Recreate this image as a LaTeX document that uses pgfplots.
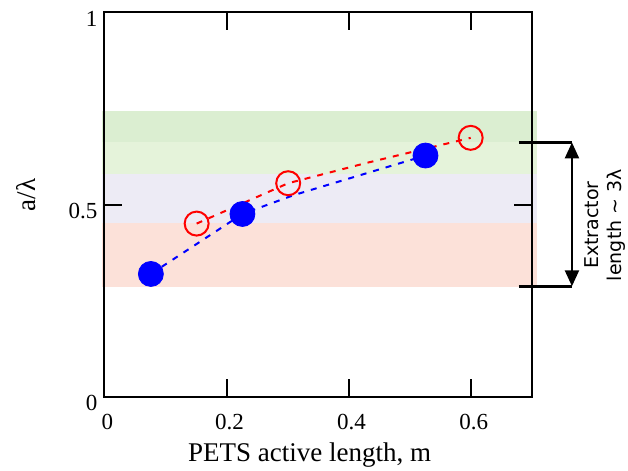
\documentclass[border=0pt]{standalone}
\usepackage{pgfplots}
\pgfplotsset{compat=1.18}
\usepackage{fontspec}
\setmainfont{Liberation Serif}
\newfontfamily\annfont{DejaVu Sans}
\usetikzlibrary{arrows.meta}
\definecolor{bandgreenA}{RGB}{219,238,209}
\definecolor{bandgreenB}{RGB}{229,243,218}
\definecolor{bandlav}{RGB}{237,235,245}
\definecolor{bandred}{RGB}{252,225,217}
\begin{document}
\begin{tikzpicture}
\useasboundingbox (0,0) rectangle (314pt,235.5pt);
\begin{axis}[
  at={(52.25pt,37pt)}, anchor=south west,
  scale only axis, width=213.6pt, height=192.25pt,
  xmin=0, xmax=0.7, ymin=0, ymax=1,
  xtick={0,0.2,0.4,0.6}, ytick={0,0.5,1},
  xticklabels={0,0.2,0.4,0.6}, yticklabels={0,0.5,1},
  axis line style={line width=1pt},
  major tick length=9pt,
  every tick/.style={black, line width=1pt},
  tick label style={font=\rmfamily\fontsize{11.5}{13}\selectfont},
  xticklabel style={yshift=-5pt, xshift=1.5pt},
  yticklabel style={yshift=-3pt},
  xlabel={PETS active length, m},
  ylabel={a/λ},
  label style={font=\rmfamily\fontsize{13.5}{16}\selectfont},
  xlabel style={at={(axis description cs:0.48,-0.169)}, anchor=base},
  ylabel style={at={(axis description cs:-0.184,0.525)}, anchor=center},
  clip=false,
  axis on top,
]
\fill[bandred] (axis cs:-0.004,0.286) rectangle (axis cs:0.7087,0.453);
\fill[bandlav] (axis cs:-0.004,0.453) rectangle (axis cs:0.7087,0.579);
\fill[bandgreenB] (axis cs:-0.004,0.579) rectangle (axis cs:0.7087,0.662);
\fill[bandgreenA] (axis cs:-0.004,0.662) rectangle (axis cs:0.7087,0.743);

\addplot[blue, line width=1pt, dash pattern=on 3pt off 3.5pt] coordinates {(0.076,0.320)(0.226,0.476)(0.31,0.525)(0.526,0.628)};
\addplot[red, line width=1pt, dash pattern=on 3pt off 3.5pt] coordinates {(0.151,0.451)(0.301,0.556)(0.43,0.609)(0.600,0.674)};
\addplot[only marks, mark=*, mark size=6.25pt, blue, mark options={fill=blue, draw=blue}] coordinates {(0.076,0.320)(0.226,0.476)(0.526,0.628)};
\addplot[only marks, mark=o, mark size=6pt, red, mark options={line width=1pt, draw=red}] coordinates {(0.151,0.451)(0.301,0.556)(0.600,0.674)};

\draw[line width=1.5pt] (axis cs:0.679,0.662) -- (axis cs:0.766,0.662);
\draw[line width=1.5pt] (axis cs:0.679,0.288) -- (axis cs:0.766,0.288);
\draw[line width=1.2pt, {Triangle[width=7pt,length=8pt]}-{Triangle[width=7pt,length=8pt]}] (axis cs:0.766,0.662) -- (axis cs:0.766,0.288);
\node[rotate=90, align=center, font=\annfont\fontsize{9.5}{11.5}\selectfont] at (axis cs:0.8206,0.447) {Extractor\\length \textasciitilde{} 3λ};
\end{axis}
\end{tikzpicture}
\end{document}
